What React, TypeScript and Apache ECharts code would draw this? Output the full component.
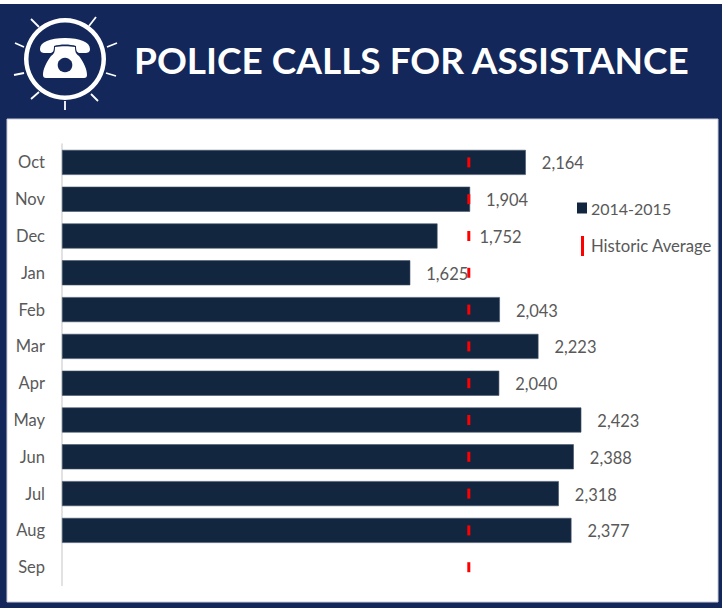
import React, { useEffect, useRef } from "react";
import * as echarts from "echarts";

const months = ["Oct", "Nov", "Dec", "Jan", "Feb", "Mar", "Apr", "May", "Jun", "Jul", "Aug", "Sep"];
const calls = [2164, 1904, 1752, 1625, 2043, 2223, 2040, 2423, 2388, 2318, 2377, null];
const historic = [1898, 1898, 1898, 1898, 1898, 1898, 1898, 1898, 1898, 1898, 1898, 1898];
const titleText = "POLICE CALLS FOR ASSISTANCE";
const seriesNames = ["2014-2015", "Historic Average"];

const NAVY = "#14275a";
const BAR = "#12263f";
const RED = "#ff0000";
const GREY = "#595959";
const FONT = "Lato";

const rays = [
  [31, 19, 39, 27], [96, 17, 89, 26], [117, 43, 107, 47], [116, 76, 106, 73],
  [98, 101, 91, 94], [65, 110, 65, 101], [31, 99, 39, 92], [14, 75, 24, 73], [15, 43, 24, 47],
];

const phoneD =
  "M40 49 C40 42 50 38 65 38 C80 38 90 42 90 49 C90 52 88 53 85 53 L80 53 C77 53 76 51 76 46 C70 44 60 44 54 46 C54 51 53 53 50 53 L45 53 C42 53 40 52 40 49 Z " +
  "M55 47 C61 46 69 46 75 47 C75 52 76 54 79 56 C84 63 87 69 87 75 C87 77 86 78 84 78 L46 78 C44 78 43 77 43 75 C43 69 46 63 51 56 C54 54 55 52 55 47 Z";
echarts.graphic.registerShape("phoneIcon", echarts.graphic.extendPath(phoneD, {}));

export default function App() {
  const ref = useRef<HTMLDivElement>(null);
  useEffect(() => {
    const chart = echarts.init(ref.current!, null, { renderer: "svg" });
    chart.setOption({
      animation: false,
      backgroundColor: "#fff",
      textStyle: { fontFamily: FONT },
      grid: { left: 62, top: 144, width: 643, height: 441.6, containLabel: false },
      xAxis: { type: "value", min: 0, max: 3000, show: false },
      yAxis: {
        type: "category",
        data: months,
        inverse: true,
        axisTick: { show: false },
        axisLine: { lineStyle: { color: "#d9d9d9", width: 1.5 } },
        axisLabel: { color: GREY, fontSize: 16.5, fontFamily: FONT, margin: 17 },
      },
      legend: [
        {
          data: [seriesNames[0]],
          left: 577,
          top: 200,
          padding: 0,
          itemWidth: 10,
          itemHeight: 11,
          icon: "rect",
          selectedMode: false,
          itemStyle: { borderWidth: 0 },
          textStyle: { color: GREY, fontSize: 16, fontFamily: FONT, padding: [0, 0, 0, -1] },
        },
        {
          data: [seriesNames[1]],
          left: 581,
          top: 236,
          padding: 0,
          itemWidth: 3,
          itemHeight: 20,
          icon: "rect",
          selectedMode: false,
          itemStyle: { borderWidth: 0 },
          textStyle: { color: GREY, fontSize: 16.7, fontFamily: FONT, padding: [0, 0, 0, 2] },
        },
      ],
      series: [
        {
          name: seriesNames[0],
          type: "bar",
          data: calls.map((v, i) =>
            months[i] === "Dec" ? { value: v, label: { distance: 42 } } : v
          ),
          barWidth: "68%",
          itemStyle: { color: BAR, borderColor: "#44546a", borderWidth: 0.6 },
          label: {
            show: true,
            position: "right",
            distance: 16,
            offset: [0, 1],
            color: GREY,
            fontSize: 16.5,
            fontFamily: FONT,
            formatter: (p: any) => (p.value == null ? "" : Number(p.value).toLocaleString("en-US")),
          },
        },
        {
          name: seriesNames[1],
          type: "scatter",
          data: historic.map((v, i) => [v, months[i]]),
          symbol: "rect",
          symbolSize: [3, 10],
          itemStyle: { color: RED, opacity: 1 },
          z: 5,
        },
      ],
      graphic: [
        { type: "rect", shape: { x: 0, y: 4, width: 722, height: 604 }, style: { fill: NAVY }, silent: true },
        { type: "rect", shape: { x: 7, y: 119, width: 711, height: 483 }, style: { fill: "#fff", stroke: "#c9cdd8", lineWidth: 1 }, silent: true },
        { type: "ring", shape: { cx: 65, cy: 59, r: 41, r0: 36.5 }, style: { fill: "#fff" }, silent: true },
        ...rays.map((r) => ({
          type: "line",
          shape: { x1: r[0], y1: r[1], x2: r[2], y2: r[3] },
          style: { stroke: "#fff", lineWidth: 1.8 },
          silent: true,
        })),
        { type: "phoneIcon", x: 0, y: 0, style: { fill: "#fff" }, silent: true },
        { type: "circle", shape: { cx: 65, cy: 65, r: 7.3 }, style: { fill: NAVY }, silent: true },
        {
          type: "text",
          x: 134,
          y: 59,
          style: {
            text: titleText,
            fill: "#fff",
            fontFamily: FONT,
            fontWeight: 700,
            fontSize: 37,
            textVerticalAlign: "middle",
          },
          silent: true,
        },
      ],
    });
    return () => chart.dispose();
  }, []);
  return <div ref={ref} style={{ position: "fixed", left: 0, top: 0, width: 722, height: 608 }} />;
}
